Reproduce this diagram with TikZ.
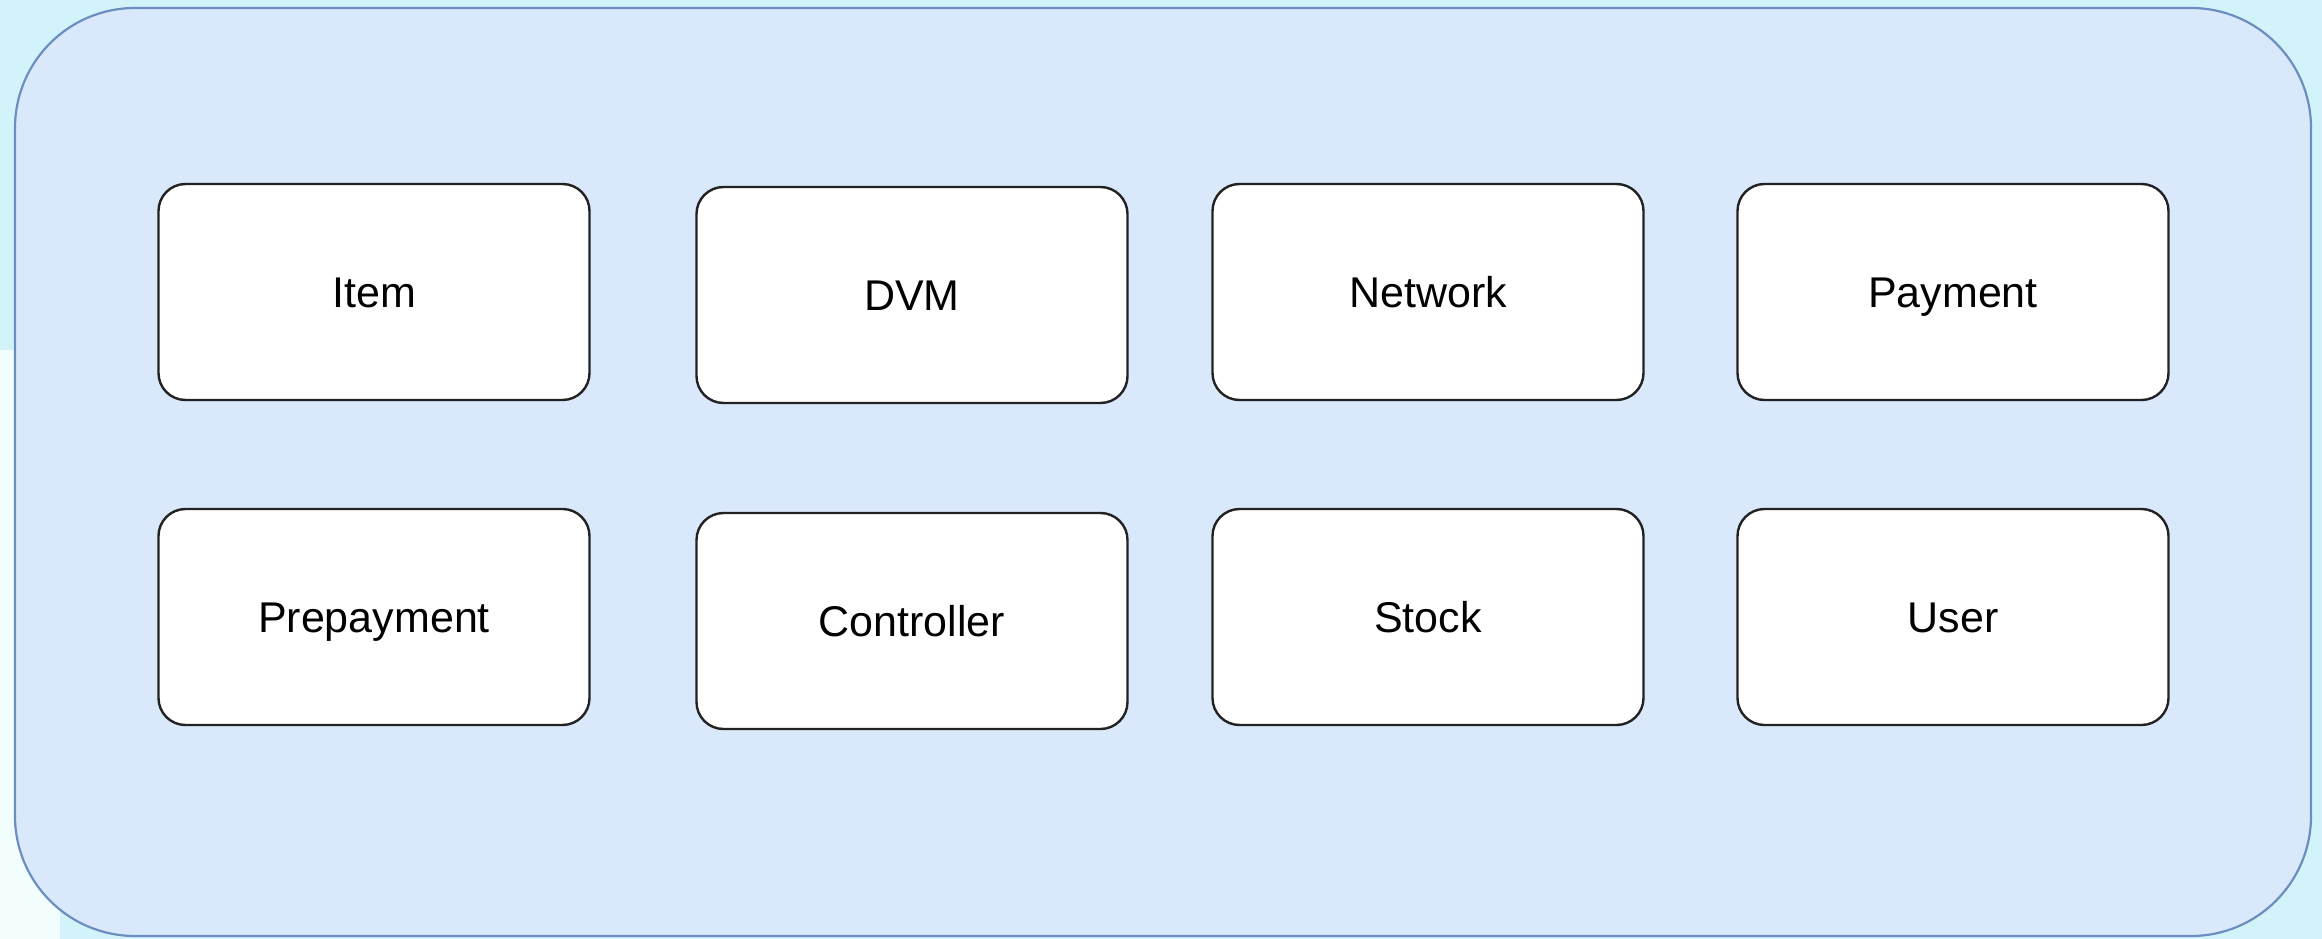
\documentclass[tikz,border=0pt]{standalone}
\usepackage{fontspec}
\setmainfont{Liberation Sans}
\definecolor{pagebg}{HTML}{D3F3FB}
\definecolor{pagebglow}{HTML}{F2FEFE}
\definecolor{groupfill}{HTML}{DAE8FC}
\definecolor{groupline}{HTML}{6C8EBF}
\definecolor{boxline}{HTML}{222222}
\tikzset{
  classbox/.style={draw=boxline, line width=2.4pt, fill=white, rounded corners=27pt,
    minimum width=431pt, minimum height=216pt, inner sep=0pt,
    text height=35pt, text depth=5pt,
    font=\fontsize{43pt}{50pt}\selectfont, text=black},
  groupbox/.style={draw=groupline, line width=2.2pt, fill=groupfill, rounded corners=120pt}
}
\begin{document}
\begin{tikzpicture}[x=1pt,y=-1pt]
\useasboundingbox (0,0) rectangle (2322,939);
\fill[pagebg] (0,0) rectangle (2322,939);
\fill[pagebglow] (0,350) rectangle (60,939);
\draw[groupbox] (15,8) rectangle (2311,936);
\node[classbox] (item) at (374,292) {Item};
\node[classbox] (dvm) at (912,295) {DVM};
\node[classbox] (network) at (1428,292) {Network};
\node[classbox] (payment) at (1953,292) {Payment};
\node[classbox] (prepayment) at (374,617) {Prepayment};
\node[classbox] (controller) at (912,621) {Controller};
\node[classbox] (stock) at (1428,617) {Stock};
\node[classbox] (user) at (1953,617) {User};
\end{tikzpicture}
\end{document}
